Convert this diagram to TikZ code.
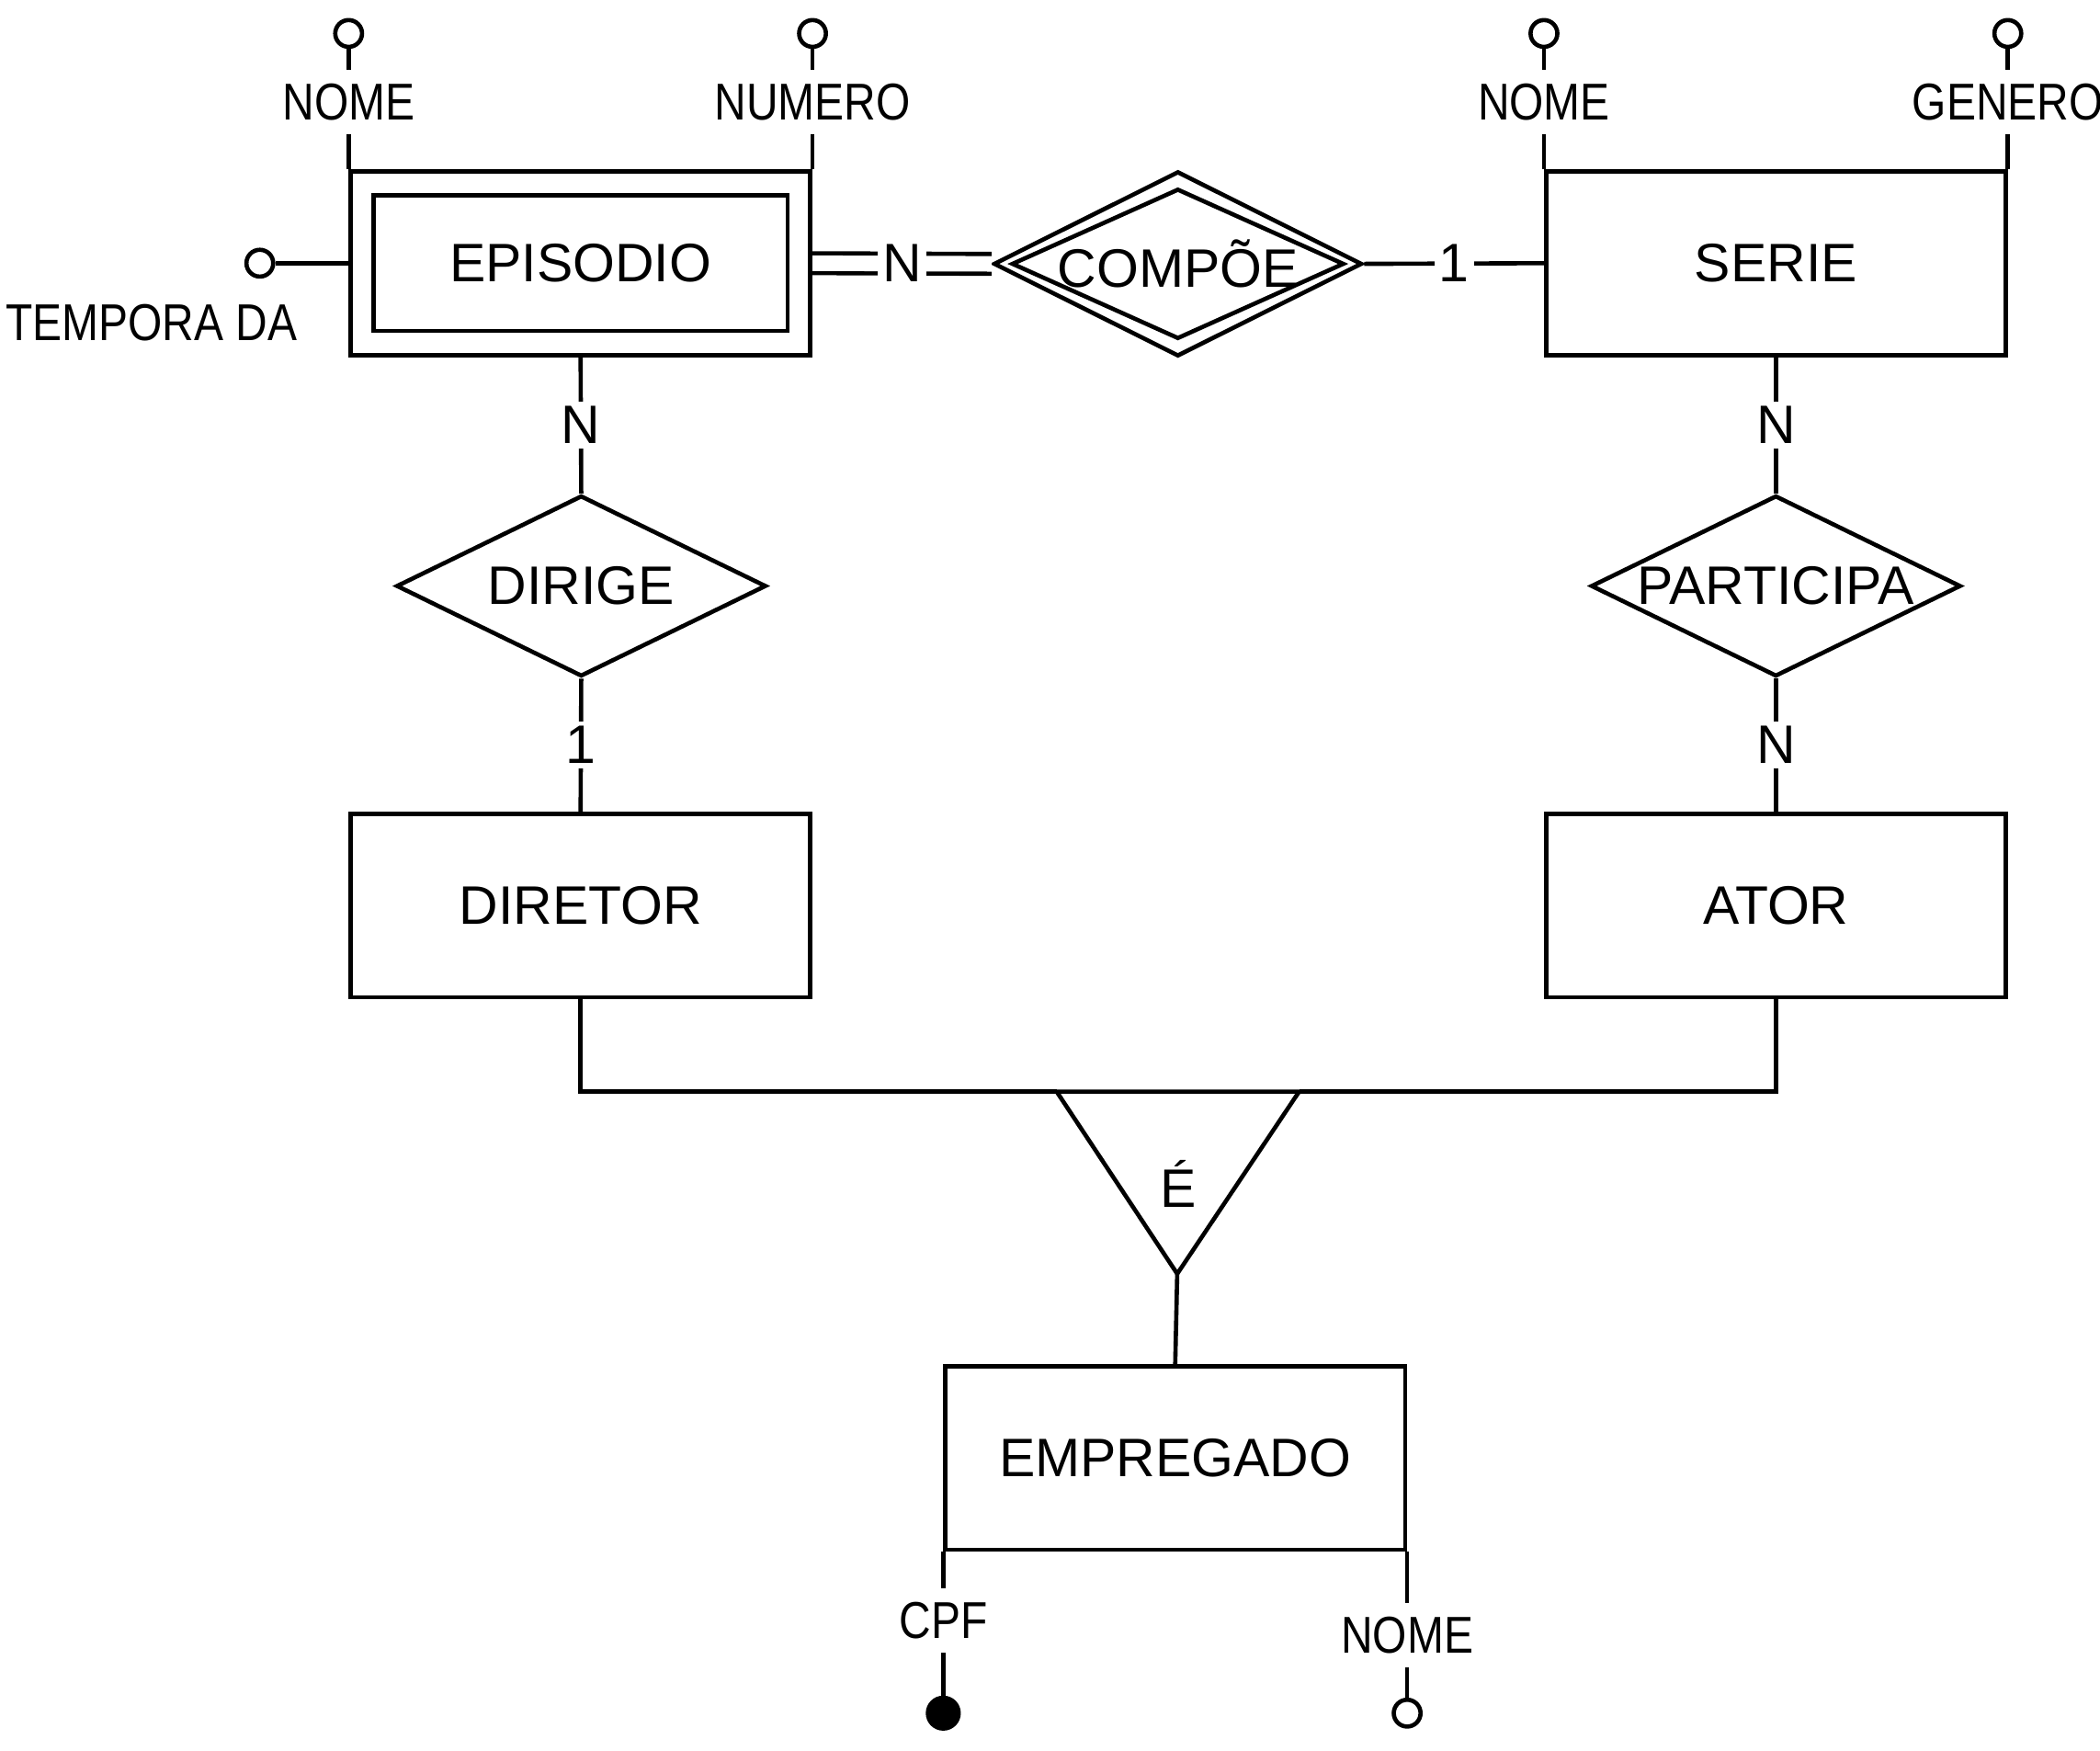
\documentclass[tikz,border=0pt]{standalone}
\usepackage{fontspec}
\setmainfont{Liberation Sans}
\newfontfamily\attrFont[FakeStretch=0.85]{Liberation Sans}
\usetikzlibrary{shapes.geometric}

\def\erText{\fontsize{11.5}{14}\selectfont}
\def\attrText{\attrFont\fontsize{11}{13}\selectfont}
% attribute above a box corner: name, corner, label
\def\topAttr#1#2#3{\node[attrlbl] (#1L) at (#2 |- 0,76) {#3};
	\node[attrcirc] (#1C) at (#2 |- 0,25) {};
	\draw (#2) -- (#1L) (#1L) -- (#1C);}

\begin{document}
\begin{tikzpicture}[x=0.01cm, y=-0.01cm, line width=0.9pt,
		ent/.style={draw, minimum width=3.43cm, minimum height=1.37cm, inner sep=0pt, font=\erText},
		rel/.style={draw, diamond, shape aspect=2, inner sep=0pt, minimum width=2.76cm, minimum height=1.35cm, font=\erText},
		card/.style={fill=white, inner sep=1pt, font=\erText},
		attrlbl/.style={inner sep=0pt, minimum height=0.45cm, font=\attrText},
		attrcirc/.style={draw, circle, inner sep=0pt, minimum size=0.2cm},
		keycirc/.style={draw, fill=black, circle, inner sep=0pt, minimum size=0.23cm}]
		\useasboundingbox (0,0) rectangle (1568,1307);
		
		% entities
		\node[ent] (episodio) at (433.5,196.5) {};
		\node[ent, minimum width=3.09cm, minimum height=1.01cm] (episodioIn) at (episodio) {EPISODIO};
		\node[ent] (serie) at (1326,196.5) {SERIE};
		\node[ent] (diretor) at (433.5,676) {DIRETOR};
		\node[ent] (ator) at (1326,676) {ATOR};
		\node[ent] (empregado) at (877.5,1088.5) {EMPREGADO};
		
		% relationships
		\node[rel, minimum width=2.75cm, minimum height=1.38cm] (compoe) at (879.5,197) {COMPÕE};
		\node[rel, minimum width=2.48cm, minimum height=1.12cm] (compoeIn) at (compoe) {};
		\node[rel] (dirige) at (434,437.5) {DIRIGE};
		\node[rel] (participa) at (1326,437.5) {PARTICIPA};
		
		\draw[double, double distance=3.3pt] (episodio.east) -- node[card] {N} (compoe.west);
		\draw (compoe.east) -- node[card] {1} (serie.west);
		\draw (episodio.south) -- node[card] {N} (dirige.north);
		\draw (dirige.south) -- node[card] {1} (diretor.north);
		\draw (serie.south) -- node[card] {N} (participa.north);
		\draw (participa.south) -- node[card] {N} (ator.north);
		
		% attributes
		\topAttr{epNome}{episodio.north west}{NOME}
		\topAttr{epNum}{episodio.north east}{NUMERO}
		\topAttr{seNome}{serie.north west}{NOME}
		\topAttr{seGen}{serie.north east}{GENERO}
		
		\node[attrcirc] (epTempC) at (194,196.5) {};
		\draw (episodio.west) -- (epTempC);
		\node[font=\attrText, inner sep=0pt] (epTempL) at (113,241) {TEMPORA DA};
		
		\node[attrlbl] (emCpfL) at (empregado.south west |- 0,1210) {CPF};
		\node[keycirc] (emCpfC) at (empregado.south west |- 0,1279) {};
		\draw (empregado.south west) -- (emCpfL) (emCpfL) -- (emCpfC);
		\node[attrlbl] (emNomeL) at (empregado.south east |- 0,1221) {NOME};
		\node[attrcirc] (emNomeC) at (empregado.south east |- 0,1279) {};
		\draw (empregado.south east) -- (emNomeL) (emNomeL) -- (emNomeC);
		
		% specialization
		\coordinate (isaL) at (789,815);
		\coordinate (isaR) at (970,815);
		\coordinate (isaB) at (879,951);
		\draw (isaL) -- (isaR) -- (isaB) -- cycle;
		\node[font=\erText] (isa) at (880,884) {É};
		\draw (diretor.south) |- (isaL);
		\draw (ator.south) |- (isaR);
		\draw (isaB) -- (empregado.north);
\end{tikzpicture}
\end{document}
